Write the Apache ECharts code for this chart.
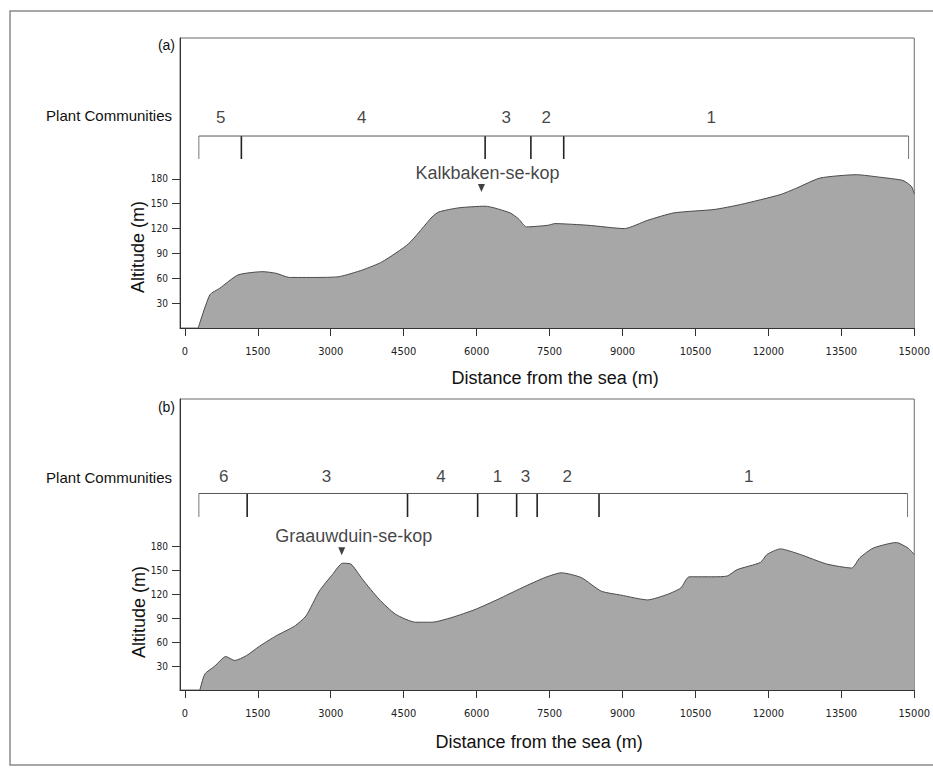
<!DOCTYPE html>
<html><head><meta charset="utf-8">
<script src="https://cdn.jsdelivr.net/npm/echarts@6/dist/echarts.min.js"></script>
<style>html,body{margin:0;padding:0;background:#fff}#c{width:933px;height:769px}</style>
</head><body><div id="c"></div>
<script>
// ---- data ----
const xTickValues = [0,1500,3000,4500,6000,7500,9000,10500,12000,13500,15000];
const yTickValues = [30,60,90,120,150,180];

// (a) altitude profile [distance m, altitude m]
const profileA = [[274,0],[514,40],[718,48],[1093,64],[1605,68],[1878,66],[2150,61],[2696,61],[3174,62],[3651,70],[4060,80],[4606,102],[5083,134],[5220,140],[5629,145],[6175,147],[6686,139],[6857,132],[7028,122],[7470,124],[7608,126],[8289,124],[9040,120],[9517,130],[10063,139],[10881,143],[11426,149],[12245,161],[12586,169],[13064,181],[13814,185],[14291,182],[14769,178],[14940,171],[15000,162]];
// (b) altitude profile
const profileB = [[309,0],[411,20],[616,30],[841,42],[1025,37],[1264,43],[1537,55],[1878,68],[2253,80],[2492,93],[2764,124],[3037,145],[3242,159],[3413,158],[3651,139],[3992,114],[4333,95],[4743,85],[5083,85],[5493,91],[5970,101],[6448,114],[6925,128],[7403,141],[7743,147],[8152,141],[8562,124],[8971,119],[9517,113],[9926,120],[10199,128],[10370,142],[10881,142],[11154,143],[11358,151],[11836,160],[11972,170],[12245,177],[12654,170],[13200,158],[13712,153],[13882,166],[14156,178],[14633,185],[14872,178],[15000,170]];

// plant community boundaries (distance m) and labels
const boundsA = [288,1162,6175,7116,7791,14883];
const communitiesA = ['5','4','3','2','1'];
const communityCentersA = [739,3638,6611,7429,10826];
const boundsB = [288,1281,4579,6021,6823,7245,8517,14862];
const communitiesB = ['6','3','4','1','3','2','1'];
const communityCentersB = [798,2914,5266,6429,7007,7864,11598];

// named peaks [distance, altitude]
const peakNameA = 'Kalkbaken-se-kop';
const peakA = [6099,169];
const peakNameB = 'Graauwduin-se-kop';
const peakB = [3226,174];

// ---- chart ----
const FONT = "'Liberation Sans', Arial, sans-serif";
const NARROW = "'Liberation Sans Narrow', 'DejaVu Sans Condensed', 'Liberation Sans', sans-serif";
const panels = [
  {top:38, height:290, right:15, ymax:350, barY:231.7, tickY:204, labY:254.6, nameGap:41, namePad:[0,0,0,16]},
  {top:399, height:291, right:13, ymax:365, barY:246.5, tickY:217, labY:268, nameGap:43, namePad:[0,16,0,0]}
];
const profiles = [profileA, profileB];
const bounds = [boundsA, boundsB];
const comms = [communitiesA, communitiesB];
const commX = [communityCentersA, communityCentersB];
const peaks = [peakA, peakB];
const peakNames = [peakNameA, peakNameB];
const peakOffsets = [[6,0],[12,0]];

const grid = [], xAxis = [], yAxis = [], series = [];
panels.forEach((p, i) => {
  grid.push({left:180, right:p.right, top:p.top, height:p.height, show:true, borderColor:'#6a6a6a', borderWidth:1, backgroundColor:'transparent'});
  xAxis.push({
    type:'value', gridIndex:i, min:-100, max:15000,
    name:'Distance from the sea (m)', nameLocation:'middle', nameGap:p.nameGap,
    nameTextStyle:{fontFamily:FONT, fontSize:18, color:'#111', padding:p.namePad},
    axisLine:{show:true, onZero:false, lineStyle:{color:'#333', width:1}},
    axisTick:{show:true, length:8, customValues:xTickValues, lineStyle:{color:'#333'}},
    axisLabel:{customValues:xTickValues, margin:18, fontFamily:NARROW, fontSize:11, color:'#222', formatter:v => String(v)},
    splitLine:{show:false}
  });
  yAxis.push({
    type:'value', gridIndex:i, min:0, max:p.ymax,
    axisLine:{show:true, onZero:false, lineStyle:{color:'#333', width:1}},
    axisTick:{show:true, length:8, customValues:yTickValues, lineStyle:{color:'#333'}},
    axisLabel:{customValues:yTickValues, margin:12, fontFamily:NARROW, fontSize:10, color:'#222', formatter:v => String(v)},
    splitLine:{show:false}
  });
  // terrain
  series.push({
    type:'line', xAxisIndex:i, yAxisIndex:i, data:profiles[i], symbol:'none', smooth:0.2,
    lineStyle:{color:'#4a4a4a', width:1}, areaStyle:{color:'#a7a7a7', opacity:1}, z:2
  });
  // community bar
  const b = bounds[i];
  series.push({
    type:'line', xAxisIndex:i, yAxisIndex:i, symbol:'none',
    data:[[b[0], p.barY],[b[b.length-1], p.barY]],
    lineStyle:{color:'#555', width:1}, z:3
  });
  // community boundary ticks
  series.push({
    type:'custom', xAxisIndex:i, yAxisIndex:i, z:3,
    data:b.map(v => [v, p.barY]),
    renderItem:(params, api) => {
      const x = api.value(0);
      const p1 = api.coord([x, p.barY]);
      const p2 = api.coord([x, p.tickY]);
      const isEnd = params.dataIndex === 0 || params.dataIndex === b.length-1;
      return {type:'line', shape:{x1:p1[0], y1:p1[1], x2:p2[0], y2:p2[1]},
        style:{stroke: isEnd ? '#777' : '#222', lineWidth: isEnd ? 1 : 1.6}};
    }
  });
  // community labels
  series.push({
    type:'scatter', xAxisIndex:i, yAxisIndex:i, symbolSize:0, z:4,
    data:commX[i].map((x, k) => ({name:comms[i][k], value:[x, p.labY]})),
    label:{show:true, position:'inside', formatter:'{b}', fontFamily:FONT, fontSize:17, color:'#111'}
  });
  // peak marker
  series.push({
    type:'scatter', xAxisIndex:i, yAxisIndex:i, z:5,
    symbol:'triangle', symbolRotate:180, symbolSize:[7,8],
    itemStyle:{color:'#111'},
    data:[{name:peakNames[i], value:peaks[i]}],
    label:{show:true, position:'top', distance:2, offset:peakOffsets[i], formatter:'{b}', fontFamily:FONT, fontSize:18, color:'#111'}
  });
});

const graphic = [
  {type:'rect', shape:{x:10, y:11, width:940, height:754}, style:{fill:'none', stroke:'#8a8a8a', lineWidth:1.5}, silent:true},
  {type:'text', x:175, y:45, style:{text:'(a)', font:"14px "+FONT, fill:'#111', textAlign:'right', textVerticalAlign:'middle'}},
  {type:'text', x:175, y:407, style:{text:'(b)', font:"14px "+FONT, fill:'#111', textAlign:'right', textVerticalAlign:'middle'}},
  {type:'text', x:172, y:115, style:{text:'Plant Communities', font:"15px "+FONT, fill:'#111', textAlign:'right', textVerticalAlign:'middle'}},
  {type:'text', x:172, y:477, style:{text:'Plant Communities', font:"15px "+FONT, fill:'#111', textAlign:'right', textVerticalAlign:'middle'}},
  {type:'text', x:138, y:247, rotation:Math.PI/2, style:{text:'Altitude (m)', font:"18px "+FONT, fill:'#111', textAlign:'center', textVerticalAlign:'middle'}},
  {type:'text', x:139, y:612, rotation:Math.PI/2, style:{text:'Altitude (m)', font:"18px "+FONT, fill:'#111', textAlign:'center', textVerticalAlign:'middle'}}
];

const chart = echarts.init(document.getElementById('c'), null, {renderer:'svg'});
chart.setOption({animation:false, backgroundColor:'#fff', grid, xAxis, yAxis, series, graphic});
</script>
</body></html>
